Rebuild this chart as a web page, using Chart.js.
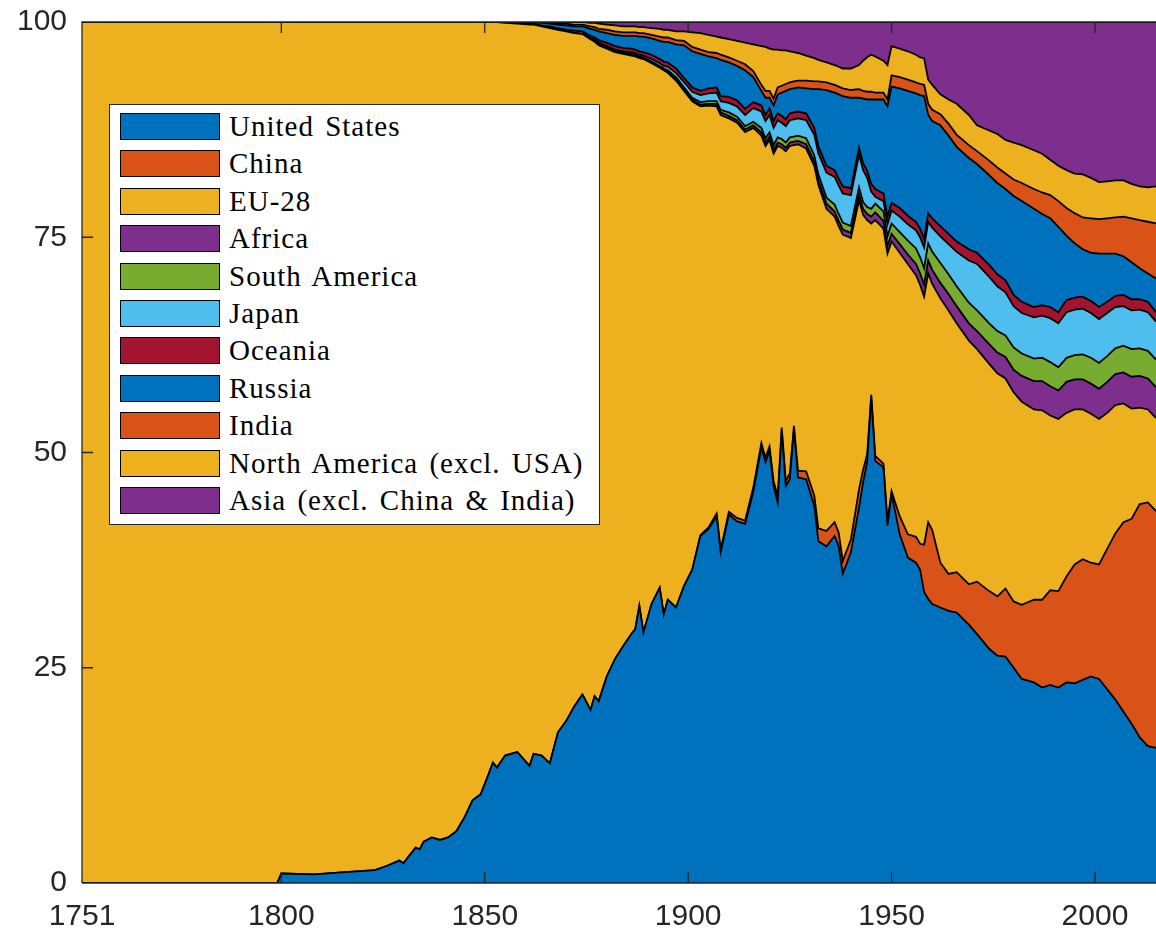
<!DOCTYPE html>
<html>
<head>
<meta charset="utf-8">
<title>Share of CO2 emissions by region</title>
<script src="https://cdn.jsdelivr.net/npm/chart.js@4.4.1/dist/chart.umd.min.js"></script>
<style>
  html, body { margin: 0; padding: 0; background: #fff; }
  #wrap { position: relative; width: 1156px; height: 935px; overflow: hidden; }
  #legend {
    position: absolute; left: 109px; top: 104px; width: 491px; height: 421px;
    box-sizing: border-box; background: #fff; border: 1px solid #262626;
  }
  .item { position: absolute; left: 10px; height: 27px; display: flex; align-items: center; }
  .swatch { width: 100px; height: 27px; box-sizing: border-box; border: 1.5px solid #000; }
  .label {
    margin-left: 9px; font-family: "Liberation Serif", serif; font-size: 29px;
    letter-spacing: 1px; word-spacing: 3px; color: #000; white-space: nowrap; line-height: 27px;
  }
</style>
</head>
<body>
<div id="wrap">
  <canvas id="chart" width="1156" height="935"></canvas>
  <div id="legend"></div>
</div>
<script>
// years sampled along the x axis
const years = [1751, 1799, 1800, 1808, 1814, 1823, 1826, 1829, 1830, 1833,
  1834, 1835, 1837, 1839, 1841, 1843, 1845, 1847, 1849, 1851,
  1852, 1853, 1855, 1858, 1861, 1862, 1864, 1866, 1868, 1870,
  1872, 1874, 1876, 1877, 1878, 1880, 1882, 1884, 1886, 1887,
  1888, 1889, 1891, 1893, 1894, 1895, 1897, 1899, 1901, 1903,
  1905, 1907, 1908, 1910, 1912, 1914, 1916, 1918, 1919, 1920,
  1921, 1922, 1923, 1924, 1925, 1926, 1927, 1929, 1931, 1932,
  1934, 1936, 1937, 1938, 1940, 1942, 1943, 1944, 1945, 1946,
  1948, 1949, 1950, 1952, 1954, 1956, 1957, 1958, 1959, 1960,
  1962, 1964, 1966, 1969, 1971, 1974, 1976, 1978, 1980, 1982,
  1985, 1987, 1989, 1991, 1993, 1995, 1997, 1999, 2001, 2003,
  2005, 2007, 2009, 2011, 2013, 2015];

// share of emissions (%) per region, same order as years
const unitedStates = [0, 0, 1.1, 1.0, 1.2, 1.5, 2.0, 2.6, 2.3, 4.1,
  3.9, 4.8, 5.3, 5.0, 5.3, 6.0, 7.6, 9.6, 10.3, 12.7,
  14.0, 13.4, 14.8, 15.2, 13.6, 15.0, 14.8, 13.9, 17.5, 18.8,
  20.5, 21.9, 20.1, 21.7, 21.1, 24.0, 26.0, 27.5, 28.9, 29.5,
  32.2, 29.1, 32.4, 34.3, 31.2, 32.9, 32.0, 34.5, 36.4, 40.3,
  41.1, 42.6, 38.4, 42.8, 42.0, 41.7, 45.4, 50.6, 48.9, 50.2,
  46.1, 44.2, 52.5, 46.1, 46.9, 52.7, 47.1, 46.9, 43.8, 39.7,
  39.1, 40.3, 39.1, 35.9, 38.4, 43.6, 46.5, 48.9, 56.4, 49.0,
  48.3, 41.5, 45.2, 40.5, 37.8, 37.2, 36.4, 33.8, 33.0, 32.4,
  32.0, 31.6, 31.4, 30.0, 28.9, 27.2, 26.4, 26.3, 25.0, 23.7,
  23.3, 22.7, 23.0, 22.7, 23.3, 23.2, 23.6, 24.0, 23.7, 22.5,
  21.3, 19.9, 18.5, 16.9, 15.9, 15.7];

const china = [0, 0, 0, 0, 0, 0, 0, 0, 0, 0,
  0, 0, 0, 0, 0, 0, 0, 0, 0, 0,
  0, 0, 0, 0, 0, 0, 0, 0, 0, 0,
  0, 0, 0, 0, 0, 0, 0, 0, 0, 0,
  0, 0, 0, 0, 0, 0, 0, 0, 0, 0.1,
  0.2, 0.3, 0.3, 0.3, 0.4, 0.4, 0.5, 0.5, 0.5, 0.5,
  0.6, 0.7, 0.4, 0.6, 0.7, 0.4, 0.8, 0.9, 1.2, 1.5,
  1.8, 1.6, 1.6, 1.5, 1.5, 2.1, 1.5, 0.9, 0.3, 0.6,
  0.4, 0.5, 0.3, 2.1, 2.7, 3.0, 3.0, 5.5, 8.9, 8.6,
  5.2, 4.3, 4.7, 4.7, 6.1, 6.7, 6.9, 7.9, 7.7, 8.6,
  9.6, 10.2, 11.0, 11.2, 12.3, 13.8, 14.0, 13.2, 13.3, 16.3,
  19.3, 22.0, 23.8, 27.1, 28.3, 27.5];

const eu28 = [100, 100, 98.9, 99.0, 98.8, 98.5, 98.0, 97.4, 97.7, 95.9,
  96.1, 95.2, 94.7, 95.0, 94.7, 94.0, 92.4, 90.4, 89.7, 87.3,
  86.0, 86.6, 85.1, 84.6, 86.1, 84.7, 84.7, 85.4, 81.6, 80.1,
  78.2, 76.7, 77.9, 76.0, 76.2, 72.9, 70.5, 68.8, 67.2, 66.5,
  63.6, 66.6, 62.8, 60.4, 63.2, 61.2, 61.2, 57.5, 54.4, 49.8,
  49.0, 47.3, 50.5, 45.7, 45.9, 45.1, 41.8, 35.7, 36.2, 35.6,
  38.0, 40.7, 32.5, 38.3, 38.0, 32.6, 37.9, 37.5, 38.3, 39.9,
  37.4, 35.5, 35.6, 37.9, 35.0, 33.6, 29.6, 27.2, 19.9, 27.4,
  27.3, 31.1, 29.0, 30.6, 31.4, 30.4, 30.1, 28.8, 28.9, 28.6,
  30.7, 30.6, 28.9, 28.3, 27.0, 26.4, 25.9, 24.4, 24.3, 23.6,
  22.1, 22.0, 20.3, 20.0, 19.0, 18.0, 17.4, 17.3, 16.9, 15.8,
  14.9, 13.8, 12.8, 11.2, 10.8, 10.8];

const africa = [0, 0, 0, 0, 0, 0, 0, 0, 0, 0,
  0, 0, 0, 0, 0, 0, 0, 0, 0, 0,
  0, 0, 0, 0, 0, 0, 0, 0, 0, 0,
  0, 0, 0.1, 0.1, 0.1, 0.1, 0.1, 0.1, 0.1, 0.1,
  0.1, 0.1, 0.1, 0.1, 0.1, 0.1, 0.2, 0.2, 0.2, 0.2,
  0.2, 0.3, 0.3, 0.3, 0.3, 0.3, 0.3, 0.4, 0.4, 0.4,
  0.4, 0.4, 0.4, 0.4, 0.4, 0.4, 0.4, 0.5, 0.5, 0.5,
  0.6, 0.6, 0.6, 0.6, 0.6, 0.7, 0.7, 0.7, 0.8, 0.9,
  0.9, 0.9, 0.9, 1.0, 1.1, 1.3, 1.3, 1.4, 1.5, 1.6,
  1.8, 1.9, 2.0, 2.0, 2.1, 2.3, 2.4, 2.5, 2.6, 3.0,
  3.3, 3.4, 3.4, 3.3, 3.6, 3.5, 3.5, 3.5, 3.5, 3.6,
  3.6, 3.6, 3.7, 3.7, 3.6, 3.6];

const southAmerica = [0, 0, 0, 0, 0, 0, 0, 0, 0, 0,
  0, 0, 0, 0, 0, 0, 0, 0, 0, 0,
  0, 0, 0, 0, 0, 0, 0, 0, 0, 0,
  0, 0, 0, 0.1, 0.1, 0.1, 0.1, 0.1, 0.1, 0.1,
  0.1, 0.1, 0.1, 0.1, 0.1, 0.2, 0.2, 0.2, 0.2, 0.3,
  0.3, 0.3, 0.3, 0.4, 0.4, 0.4, 0.4, 0.5, 0.5, 0.5,
  0.6, 0.6, 0.6, 0.6, 0.6, 0.6, 0.6, 0.7, 0.7, 0.7,
  0.7, 0.8, 0.8, 0.8, 0.8, 0.8, 0.8, 0.8, 0.9, 1.0,
  1.1, 1.1, 1.2, 1.4, 1.6, 1.8, 1.9, 1.9, 2.0, 2.1,
  2.3, 2.3, 2.3, 2.4, 2.4, 2.4, 2.5, 2.5, 2.6, 2.6,
  2.6, 2.7, 2.8, 2.7, 2.8, 2.8, 2.9, 3.0, 3.0, 3.0,
  3.0, 3.1, 3.2, 3.2, 3.2, 3.2];

const japan = [0, 0, 0, 0, 0, 0, 0, 0, 0, 0,
  0, 0, 0, 0, 0, 0, 0, 0, 0, 0,
  0, 0, 0, 0, 0, 0, 0, 0, 0, 0,
  0, 0, 0, 0, 0.1, 0.1, 0.1, 0.1, 0.2, 0.2,
  0.2, 0.2, 0.3, 0.3, 0.3, 0.4, 0.5, 0.6, 0.7, 0.8,
  0.9, 1.0, 1.0, 1.1, 1.2, 1.3, 1.6, 1.9, 2.0, 2.0,
  2.0, 2.0, 1.9, 1.9, 2.0, 2.0, 2.0, 2.1, 2.4, 2.5,
  2.9, 3.2, 3.3, 3.4, 3.6, 3.8, 3.7, 3.4, 2.0, 0.8,
  1.2, 1.4, 1.5, 1.8, 1.9, 2.1, 2.3, 2.4, 2.5, 2.8,
  3.1, 3.5, 4.0, 4.9, 5.4, 5.4, 5.2, 5.0, 4.8, 4.7,
  4.8, 4.9, 5.1, 5.1, 5.3, 5.3, 5.3, 5.2, 5.1, 5.0,
  4.8, 4.6, 4.5, 4.5, 4.5, 4.4];

const oceania = [0, 0, 0, 0, 0, 0, 0, 0, 0, 0,
  0, 0, 0, 0, 0, 0, 0, 0, 0, 0,
  0, 0, 0, 0, 0.1, 0.1, 0.1, 0.2, 0.2, 0.2,
  0.3, 0.3, 0.3, 0.3, 0.3, 0.4, 0.4, 0.4, 0.4, 0.4,
  0.4, 0.4, 0.5, 0.5, 0.5, 0.5, 0.5, 0.5, 0.5, 0.5,
  0.6, 0.6, 0.6, 0.7, 0.7, 0.7, 0.7, 0.7, 0.7, 0.8,
  0.8, 0.8, 0.8, 0.8, 0.8, 0.8, 0.8, 0.8, 0.8, 0.8,
  0.8, 0.8, 0.8, 0.8, 0.8, 0.8, 0.8, 0.8, 0.9, 0.9,
  0.9, 0.9, 0.9, 1.0, 1.0, 1.0, 1.0, 1.0, 1.0, 1.1,
  1.2, 1.2, 1.2, 1.3, 1.3, 1.4, 1.4, 1.4, 1.3, 1.3,
  1.2, 1.2, 1.3, 1.3, 1.4, 1.4, 1.4, 1.4, 1.4, 1.3,
  1.3, 1.3, 1.3, 1.2, 1.2, 1.1];

const russia = [0, 0, 0, 0, 0, 0, 0, 0, 0, 0,
  0, 0, 0, 0, 0, 0, 0, 0, 0, 0,
  0, 0, 0.1, 0.2, 0.2, 0.2, 0.3, 0.3, 0.4, 0.5,
  0.5, 0.6, 0.8, 0.9, 1.0, 1.1, 1.3, 1.4, 1.5, 1.6,
  1.7, 1.8, 1.9, 2.1, 2.3, 2.4, 2.8, 3.8, 4.2, 4.3,
  3.7, 3.4, 4.2, 4.0, 4.0, 4.5, 2.9, 1.7, 2.0, 1.2,
  1.8, 2.2, 2.7, 3.3, 2.8, 2.8, 2.8, 2.9, 4.5, 6.6,
  8.8, 9.0, 9.8, 10.5, 10.5, 5.8, 7.5, 8.3, 9.8, 10.4,
  10.9, 12.8, 13.5, 13.9, 14.5, 14.9, 15.5, 16.6, 11.4, 11.3,
  11.7, 11.4, 11.0, 10.6, 10.3, 10.4, 10.6, 10.6, 11.5, 11.7,
  11.4, 10.6, 10.3, 9.9, 7.5, 6.3, 5.5, 5.6, 6.2, 5.6,
  4.9, 4.5, 4.3, 3.6, 3.3, 3.9];

const india = [0, 0, 0, 0, 0, 0, 0, 0, 0, 0,
  0, 0, 0, 0, 0, 0, 0, 0, 0, 0,
  0, 0, 0, 0, 0, 0, 0.1, 0.1, 0.1, 0.2,
  0.2, 0.2, 0.3, 0.3, 0.3, 0.4, 0.4, 0.4, 0.4, 0.4,
  0.4, 0.4, 0.4, 0.5, 0.5, 0.5, 0.5, 0.5, 0.5, 0.5,
  0.5, 0.6, 0.6, 0.6, 0.6, 0.7, 0.7, 0.7, 0.8, 0.8,
  0.8, 0.8, 0.8, 0.8, 0.8, 0.8, 0.8, 0.9, 0.9, 0.9,
  0.9, 0.9, 0.9, 0.9, 0.9, 1.0, 0.9, 0.9, 0.9, 0.8,
  0.8, 0.8, 1.3, 1.3, 1.3, 1.3, 1.3, 1.3, 1.3, 1.3,
  1.3, 1.4, 1.4, 1.5, 1.5, 1.7, 1.8, 1.8, 1.9, 2.1,
  2.3, 2.5, 2.7, 3.0, 3.2, 3.5, 3.7, 4.0, 4.0, 4.1,
  4.2, 4.6, 5.1, 5.6, 6.0, 6.4];

const northAmerica = [0, 0, 0, 0, 0, 0, 0, 0, 0, 0,
  0, 0, 0, 0, 0, 0, 0, 0, 0, 0,
  0, 0, 0, 0, 0, 0, 0, 0.1, 0.2, 0.2,
  0.3, 0.3, 0.4, 0.5, 0.6, 0.6, 0.7, 0.7, 0.7, 0.7,
  0.7, 0.7, 0.8, 0.9, 0.9, 0.9, 1.0, 1.1, 1.7, 1.9,
  2.0, 1.9, 2.0, 2.1, 2.3, 2.5, 3.1, 4.5, 5.1, 4.9,
  5.7, 4.4, 4.1, 3.9, 3.6, 3.4, 3.2, 2.9, 2.7, 2.5,
  2.3, 2.3, 2.3, 2.3, 2.5, 2.8, 3.5, 4.0, 4.3, 4.2,
  3.7, 4.0, 3.4, 3.3, 3.3, 3.2, 3.1, 3.1, 2.8, 2.9,
  2.3, 2.8, 3.6, 3.5, 3.0, 3.5, 3.9, 3.9, 4.3, 4.4,
  4.5, 4.5, 4.1, 4.1, 4.4, 4.6, 5.0, 4.7, 4.3, 4.3,
  4.3, 4.2, 4.0, 3.9, 4.0, 4.3];

const asia = [0, 0, 0, 0, 0, 0, 0, 0, 0, 0,
  0, 0, 0, 0, 0, 0, 0, 0, 0, 0,
  0, 0, 0, 0, 0, 0, 0, 0, 0, 0,
  0, 0, 0.1, 0.1, 0.2, 0.3, 0.4, 0.5, 0.5, 0.5,
  0.6, 0.6, 0.7, 0.8, 0.9, 0.9, 1.1, 1.1, 1.2, 1.3,
  1.5, 1.7, 1.8, 2.0, 2.2, 2.4, 2.6, 2.8, 2.9, 3.1,
  3.2, 3.2, 3.3, 3.3, 3.4, 3.5, 3.6, 3.9, 4.2, 4.4,
  4.7, 5.0, 5.2, 5.4, 5.4, 5.0, 4.5, 4.1, 3.8, 4.0,
  4.5, 5.0, 2.8, 3.1, 3.4, 3.8, 4.1, 4.2, 6.7, 7.3,
  8.4, 9.0, 9.5, 10.8, 12.0, 12.6, 13.0, 13.7, 14.0, 14.3,
  14.9, 15.3, 16.0, 16.7, 17.2, 17.6, 17.7, 18.1, 18.6, 18.5,
  18.4, 18.4, 18.8, 19.1, 19.2, 19.1];

const seriesNames = ['United States', 'China', 'EU-28', 'Africa', 'South America', 'Japan',
  'Oceania', 'Russia', 'India', 'North America (excl. USA)', 'Asia (excl. China & India)'];
const seriesValues = [unitedStates, china, eu28, africa, southAmerica, japan,
  oceania, russia, india, northAmerica, asia];
const seriesColors = ['#0072BD', '#D95319', '#EDB120', '#7E2F8E', '#77AC30', '#4DBEEE',
  '#A2142F', '#0072BD', '#D95319', '#EDB120', '#7E2F8E'];

const xTicks = [1751, 1800, 1850, 1900, 1950, 2000];
const yTicks = [0, 25, 50, 75, 100];

const axisColor = '#262626';

// axes box and inward tick marks, drawn on top of the areas
const boxPlugin = {
  id: 'box',
  afterDatasetsDraw(chart) {
    const ctx = chart.ctx;
    const a = chart.chartArea;
    const xs = chart.scales.x;
    const ys = chart.scales.y;
    const tick = 11;
    ctx.save();
    ctx.strokeStyle = axisColor;
    ctx.lineWidth = 1.3;
    ctx.beginPath();
    ctx.moveTo(a.left, a.bottom);
    ctx.lineTo(a.left, a.top);
    ctx.lineTo(a.right, a.top);
    ctx.moveTo(a.left, a.bottom);
    ctx.lineTo(a.right, a.bottom);
    xTicks.forEach(function(v) {
      const px = xs.getPixelForValue(v);
      ctx.moveTo(px, a.bottom);
      ctx.lineTo(px, a.bottom - tick);
      ctx.moveTo(px, a.top);
      ctx.lineTo(px, a.top + tick);
    });
    yTicks.forEach(function(v) {
      const py = ys.getPixelForValue(v);
      ctx.moveTo(a.left, py);
      ctx.lineTo(a.left + tick, py);
    });
    ctx.stroke();
    ctx.restore();
  }
};

const datasets = seriesValues.map(function(values, i) {
  return {
    label: seriesNames[i],
    data: values,
    backgroundColor: seriesColors[i],
    borderColor: '#000',
    borderWidth: 1.8,
    pointRadius: 0,
    tension: 0,
    fill: i === 0 ? 'origin' : '-1'
  };
});

new Chart(document.getElementById('chart'), {
  type: 'line',
  data: { labels: years, datasets: datasets },
  plugins: [boxPlugin],
  options: {
    responsive: false,
    animation: false,
    layout: { padding: { top: 22, left: 0, right: 0, bottom: 0 } },
    plugins: {
      legend: { display: false },
      tooltip: { enabled: false }
    },
    scales: {
      x: {
        type: 'linear',
        min: 1751,
        max: 2015,
        grid: { display: false, drawTicks: false },
        border: { display: false },
        afterBuildTicks: function(axis) {
          axis.ticks = xTicks.map(function(v) { return { value: v }; });
        },
        afterFit: function(axis) {
          axis.height = 52;
          axis.paddingLeft = 0;
          axis.paddingRight = 0;
        },
        ticks: {
          autoSkip: false,
          maxRotation: 0,
          padding: 16,
          color: axisColor,
          font: { family: 'Liberation Sans', size: 30 },
          callback: function(v) { return String(v); }
        }
      },
      y: {
        stacked: true,
        min: 0,
        max: 100,
        grid: { display: false, drawTicks: false },
        border: { display: false },
        afterBuildTicks: function(axis) {
          axis.ticks = yTicks.map(function(v) { return { value: v }; });
        },
        afterFit: function(axis) {
          axis.width = 82;
          axis.paddingTop = 0;
          axis.paddingBottom = 0;
        },
        ticks: {
          padding: 15,
          color: axisColor,
          font: { family: 'Liberation Sans', size: 30 },
          callback: function(v) { return String(v); }
        }
      }
    }
  }
});

// legend box inside the plot, as in the original figure
const legend = document.getElementById('legend');
seriesNames.forEach(function(name, i) {
  const item = document.createElement('div');
  item.className = 'item';
  item.style.top = (8 + i * 37.4) + 'px';
  const sw = document.createElement('div');
  sw.className = 'swatch';
  sw.style.background = seriesColors[i];
  const lb = document.createElement('span');
  lb.className = 'label';
  lb.textContent = name;
  item.appendChild(sw);
  item.appendChild(lb);
  legend.appendChild(item);
});
</script>
</body>
</html>
